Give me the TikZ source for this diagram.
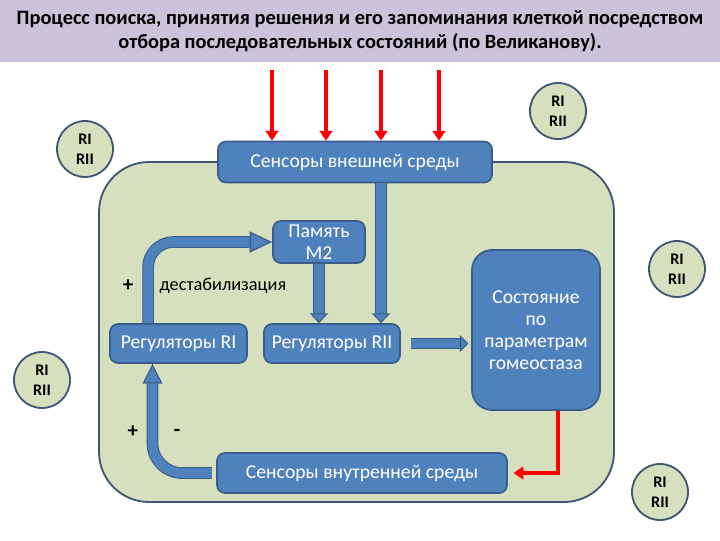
\documentclass[tikz,border=0pt]{standalone}
\usepackage{fontspec}
\setmainfont{Carlito}
\usetikzlibrary{arrows.meta}
\definecolor{cellfill}{HTML}{D7E0BE}
\definecolor{celledge}{HTML}{3F5772}
\definecolor{boxfill}{HTML}{4F81BD}
\definecolor{boxedge}{HTML}{385D8A}
\definecolor{titlefill}{HTML}{CCC3DB}
\begin{document}
\begin{tikzpicture}[x=0.025cm,y=-0.025cm]
\tikzstyle{block}=[draw=boxedge,line width=1.2pt,fill=boxfill,text=white,rounded corners=0.2cm,align=center,font=\fontsize{14}{15.5}\selectfont,inner sep=0pt]
\tikzstyle{ring}=[circle,draw=celledge,line width=1.3pt,fill=cellfill,minimum size=1.4cm,inner sep=0pt,align=center,font=\fontsize{11.5}{14}\selectfont\bfseries]
\tikzstyle{lbl}=[inner sep=1pt,font=\fontsize{13}{15}\selectfont]
\tikzset{fat/.style 2 args={draw=boxfill,line width=6.8pt,-{Triangle[length=#1,width=#2,color=boxedge,fill=boxfill,line width=0.8pt]},preaction={draw=boxedge,line width=8.3pt,arrows=-,shorten >=#1}}}
\tikzstyle{redarrow}=[draw=red,line width=2.3pt,-{Triangle[length=7pt,width=9pt]}]
\useasboundingbox (0,0) rectangle (720,540);
\node[fill=titlefill,minimum width=18cm,minimum height=1.55cm,align=center,font=\fontsize{14.5}{17.5}\selectfont\bfseries] (title) at (360,31) {Процесс поиска, принятия решения и его запоминания клеткой посредством\\отбора последовательных состояний (по Великанову).};
\draw[draw=celledge,line width=1.3pt,fill=cellfill,rounded corners=1.25cm] (99,162) rectangle (614,502);
% boxes
\node[block,minimum width=6.85cm,minimum height=1.025cm] (ext) at (355,162) {Сенсоры внешней среды};
\node[block,minimum width=2.3cm,minimum height=1.05cm] (mem) at (319,242) {Память\\М2};
\node[block,minimum width=3.425cm,minimum height=0.975cm] (rI) at (178.5,343.5) {Регуляторы RI};
\node[block,minimum width=3.4cm,minimum height=0.975cm] (rII) at (332,343.5) {Регуляторы RII};
\node[block,minimum width=3.2cm,minimum height=4cm,rounded corners=0.5cm] (state) at (536,330) {Состояние\\по\\параметрам\\гомеостаза};
\node[block,minimum width=7.25cm,minimum height=1cm] (int) at (362,473) {Сенсоры внутренней среды};
% circles
\node[ring] (ring1) at (558,111) {RI\\RII};
\node[ring] (ring2) at (85,149) {RI\\RII};
\node[ring] (ring3) at (677,269) {RI\\RII};
\node[ring] (ring4) at (42,380) {RI\\RII};
\node[ring] (ring5) at (660,492) {RI\\RII};
% labels
\node[lbl,font=\fontsize{15}{16}\selectfont\bfseries] (plus1) at (128,286) {+};
\node[lbl,anchor=west] (destab) at (158,286) {дестабилизация};
\node[lbl,font=\fontsize{15}{16}\selectfont\bfseries] (plus2) at (133,432) {+};
\node[lbl,font=\fontsize{15}{16}\selectfont\bfseries] (minus) at (177,433) {-};
% external inputs
\foreach \x [count=\i] in {272,326,381,439} {
  \coordinate (in\i) at (\x,70);
  \draw[redarrow] (in\i) -- (in\i |- ext.north);
}
% fat arrows
\draw[fat={7pt}{13pt}] ([xshift=0.65cm]ext.south) -- ([xshift=0.65cm]ext.south |- rII.north);
\draw[fat={7pt}{13pt}] (mem.south) -- (mem.south |- rII.north);
\draw[fat={6pt}{12pt},shorten <=7pt,shorten >=2pt] (rII.east) -- (state.west |- rII.east);
\draw[fat={16pt}{15pt},rounded corners=18pt] ([xshift=-0.76cm]rI.north) |- (mem.west);
\draw[fat={14pt}{14pt},rounded corners=21pt,shorten <=3pt] (int.west) -| ([xshift=-0.65cm]rI.south);
\draw[redarrow,shorten >=4pt] ([xshift=0.55cm]state.south) |- (int.east);
\end{tikzpicture}
\end{document}
